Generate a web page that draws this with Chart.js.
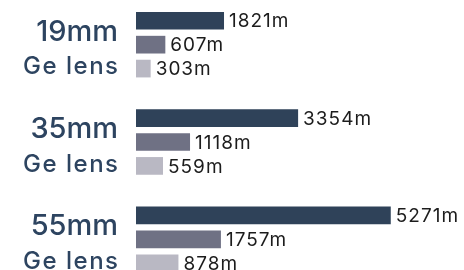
<!DOCTYPE html>
<html>
<head>
<meta charset="utf-8">
<script src="https://cdn.jsdelivr.net/npm/chart.js@4"></script>
<style>
  html, body { margin: 0; padding: 0; background: #fff; overflow: hidden; }
  body { width: 464px; height: 270px; position: relative; }
  #wrap { position: absolute; left: 0; top: -4px; width: 464px; height: 292px; }
</style>
</head>
<body>
<div id="wrap"><canvas id="myChart"></canvas></div>
<script>
const lensSizes = ['19mm', '35mm', '55mm']
const lensType = 'Ge lens'
const rangeA = [1821, 3354, 5271]
const rangeB = [607, 1118, 1757]
const rangeC = [303, 559, 878]
const unit = 'm'

const darkColor = '#2f4259'
const midColor = '#6f7184'
const lightColor = '#b9b8c3'
const labelColor = '#2d4460'
const valueColor = '#1c1c1c'

// draws the lens names and the value at the end of each bar
const labelPlugin = {
	id: 'labels',
	afterDatasetsDraw(chart) {
		const ctx = chart.ctx
		const y = chart.scales.y
		ctx.save()
		ctx.fillStyle = valueColor
		ctx.font = '400 19px Inter'
		ctx.letterSpacing = '1px'
		ctx.textAlign = 'left'
		ctx.textBaseline = 'middle'
		chart.data.datasets.forEach(function(ds, i) {
			chart.getDatasetMeta(i).data.forEach(function(bar, j) {
				ctx.fillText(ds.data[j] + unit, bar.x + 5, bar.y + 1)
			})
		})
		ctx.fillStyle = labelColor
		ctx.textAlign = 'right'
		ctx.textBaseline = 'alphabetic'
		lensSizes.forEach(function(name, i) {
			var cy = y.getPixelForValue(i)
			ctx.font = '500 29px Inter'
			ctx.letterSpacing = '0px'
			ctx.fillText(name, 118, cy - 4)
			ctx.font = '500 24px Inter'
			ctx.letterSpacing = '1.5px'
			ctx.fillText(lensType, 119.5, cy + 29.5)
		})
		ctx.restore()
	}
}

var ctx = document.getElementById('myChart')
var data = {
	labels: lensSizes,
	datasets: [
		{ data: rangeA, backgroundColor: darkColor },
		{ data: rangeB, backgroundColor: midColor },
		{ data: rangeC, backgroundColor: lightColor },
	]
}

var barChart = new Chart(ctx, {
	type: 'bar',
	data: data,
	options: {
		indexAxis: 'y',
		responsive: true,
		maintainAspectRatio: false,
		animation: false,
		categoryPercentage: 0.737,
		barPercentage: 0.74,
		layout: { padding: { left: 136, right: 38, top: 0, bottom: 0 } },
		plugins: { legend: { display: false }, tooltip: { enabled: false } },
		scales: {
			x: { display: false, min: 0, max: 6000 },
			y: { display: false }
		}
	},
	plugins: [labelPlugin]
})
</script>
</body>
</html>
